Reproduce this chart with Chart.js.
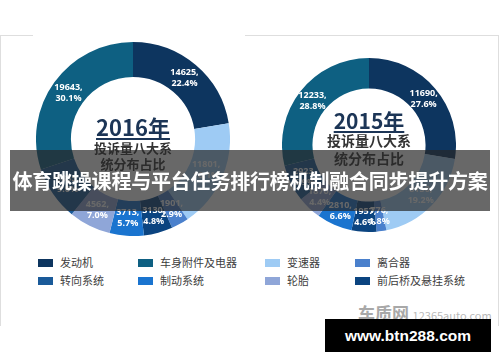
<!DOCTYPE html>
<html>
<head>
<meta charset="utf-8">
<script src="https://cdn.jsdelivr.net/npm/chart.js"></script>
<style>
  body { margin: 0; width: 500px; height: 362px; background: #fff; position: relative; overflow: hidden;
         font-family: "Noto Sans CJK SC", "Noto Sans", sans-serif; }
  .frame { position: absolute; left: 0; top: 35px; width: 497px; height: 290px;
           border: 1px solid #dedede; border-bottom: none; }
  .gap { position: absolute; left: 33px; top: 33px; width: 212px; height: 5px; background: #fff; }
  canvas { position: absolute; }
  .center { position: absolute; text-align: center; font-weight: bold; color: #333; line-height: 1; }
  .year { color: #1c3556; text-decoration: underline; text-decoration-thickness: 2px; text-underline-offset: 2px; }
  .banner { position: absolute; left: 10px; top: 150px; width: 480px; height: 61px;
            background: rgba(40, 40, 40, 0.7); color: #fff; font-weight: bold; font-size: 20px;
            line-height: 61px; text-align: center; white-space: nowrap; letter-spacing: -0.2px; }
  .legend { position: absolute; font-size: 11px; color: #404040; }
  .legend .item { position: absolute; white-space: nowrap; }
  .legend .box { position: absolute; left: 0; top: 0; width: 15px; height: 8px; }
  .legend .txt { position: absolute; left: 22px; top: -5px; }
  .wm { position: absolute; left: 358px; top: 300px; color: #b9b9b9; white-space: nowrap; }
  .stamp { position: absolute; left: 325px; top: 319px; width: 166px; height: 33px; background: #000;
           color: #fff; font: bold 15.5px "Liberation Sans", Arial, sans-serif; line-height: 33px; text-align: center; }
</style>
</head>
<body>
<div class="frame"></div>
<div class="gap"></div>

<canvas id="c2016" width="194" height="194" style="left:36px; top:42px;"></canvas>
<canvas id="c2015" width="174" height="174" style="left:282px; top:58px;"></canvas>

<div class="center" style="left:63px; top:115px; width:140px;">
  <div class="year" style="font-size:22px;">2016年</div>
  <div style="font-size:13px; margin-top:4px;">投诉量八大系</div>
  <div style="font-size:13px; margin-top:3px;">统分布占比</div>
</div>
<div class="center" style="left:299px; top:110px; width:140px;">
  <div class="year" style="font-size:21px;">2015年</div>
  <div style="font-size:14px; margin-top:2px;">投诉量八大系</div>
  <div style="font-size:14px; margin-top:4px;">统分布占比</div>
</div>

<div class="banner">体育跳操课程与平台任务排行榜机制融合同步提升方案</div>

<div class="legend" id="legend"></div>

<div class="wm"><span style="font-size:17px; font-weight:bold; color:#a8a8a8;">车质网</span> <span style="font-size:11px;">12365auto.com</span></div>
<div class="stamp">www.btn288.com</div>

<script>
// categories in legend order
const categories = ['发动机', '车身附件及电器', '变速器', '离合器', '转向系统', '制动系统', '轮胎', '前后桥及悬挂系统'];
const categoryColors = ['#0d355f', '#0e6082', '#9ecbf4', '#4a80cc', '#1a5a99', '#1a74cf', '#8fa6d8', '#0b4480'];

// slice order around each ring, clockwise from 12 o'clock
const sliceOrder = ['发动机', '变速器', '离合器', '前后桥及悬挂系统', '制动系统', '轮胎', '转向系统', '车身附件及电器'];
const values2016 = [14625, 11801, 1901, 3130, 3713, 4562, 5885, 19643];
const values2015 = [11690, 8150, 776, 1957, 2810, 1870, 2923, 12233];

const sliceLabels = {
  id: 'sliceLabels',
  afterDatasetsDraw(chart) {
    const ctx = chart.ctx;
    const data = chart.data.datasets[0].data;
    const total = data.reduce((a, b) => a + b, 0);
    ctx.save();
    ctx.font = 'bold 9px "Open Sans", sans-serif';
    ctx.fillStyle = '#fff';
    ctx.textAlign = 'center';
    ctx.textBaseline = 'middle';
    chart.getDatasetMeta(0).data.forEach((arc, i) => {
      const p = arc.tooltipPosition();
      ctx.fillText(data[i] + ',', p.x, p.y - 5.5);
      ctx.fillText((data[i] / total * 100).toFixed(1) + '%', p.x, p.y + 5.5);
    });
    ctx.restore();
  }
};

function makeDoughnut(id, values, cutout) {
  return new Chart(document.getElementById(id).getContext('2d'), {
    type: 'doughnut',
    data: {
      labels: sliceOrder,
      datasets: [{
        data: values,
        backgroundColor: sliceOrder.map(name => categoryColors[categories.indexOf(name)]),
        borderWidth: 0,
        hoverOffset: 0,
        offset: 0
      }]
    },
    options: {
      responsive: false,
      animation: false,
      events: [],
      cutout: cutout,
      layout: { padding: 0 },
      plugins: { legend: { display: false }, tooltip: { enabled: false } }
    },
    plugins: [sliceLabels]
  });
}

makeDoughnut('c2016', values2016, '64%');
makeDoughnut('c2015', values2015, '65%');

// legend: two rows of four
const legendX = [38, 138, 265, 355];
const legendY = [259, 277];
const legend = document.getElementById('legend');
categories.forEach((name, i) => {
  const item = document.createElement('div');
  item.className = 'item';
  item.style.left = legendX[i % 4] + 'px';
  item.style.top = legendY[Math.floor(i / 4)] + 'px';
  item.innerHTML = '<div class="box" style="background:' + categoryColors[i] + '"></div><div class="txt">' + name + '</div>';
  legend.appendChild(item);
});
</script>
</body>
</html>
